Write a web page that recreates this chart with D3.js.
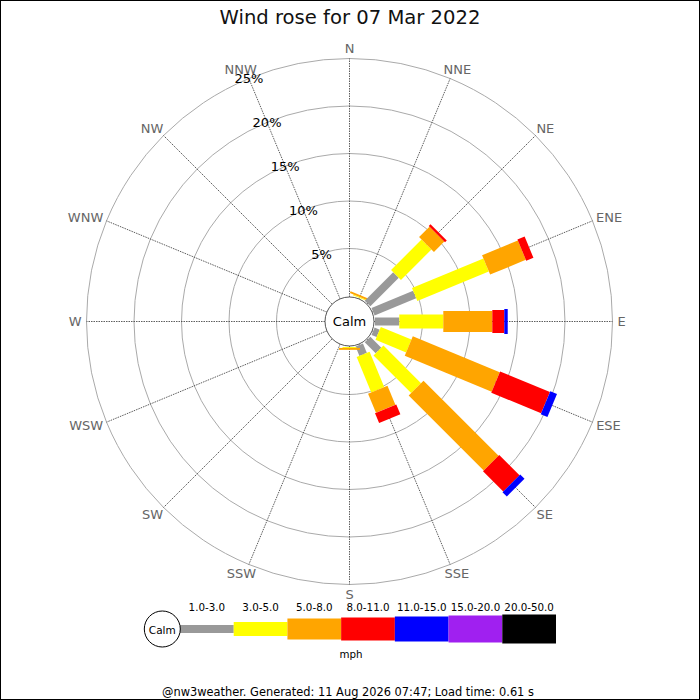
<!DOCTYPE html>
<html>
<head>
<meta charset="utf-8">
<script src="https://cdn.jsdelivr.net/npm/d3@7"></script>
<style>
  html, body { margin: 0; padding: 0; background: #fff; }
  svg { display: block; font-family: "DejaVu Sans", sans-serif; }
</style>
</head>
<body>
<div id="chart"></div>
<script>
// ---- Data ----
const directions = ["N","NNE","NE","ENE","E","ESE","SE","SSE","S","SSW","SW","WSW","W","WNW","NW","NNW"];
const speedBins = ["1.0-3.0","3.0-5.0","5.0-8.0","8.0-11.0","11.0-15.0","15.0-20.0","20.0-50.0"];
const binColors = ["#999999","#ffff00","#ffa500","#ff0000","#0000ff","#a020f0","#000000"];
// percentage of observations per direction for each speed bin
const s1to3   = [0, 0,    4.24, 4.74, 2.56, 0.58, 1.63,  1.06, 0,    0,0,0,0,0,0,0];
const s3to5   = [0, 0.10, 4.54, 8.14, 4.63, 3.49, 5.60,  4.03, 0.10, 0,0,0,0,0,0,0];
const s5to8   = [0, 0.20, 1.54, 4.07, 5.16, 9.90, 11.17, 2.17, 0.20, 0,0,0,0,0,0,0];
const s8to11  = [0, 0,    0.26, 0.82, 1.26, 5.68, 3.01,  1.13, 0,    0,0,0,0,0,0,0];
const s11to15 = [0, 0,    0,    0,    0.36, 0.76, 0.64,  0,    0,    0,0,0,0,0,0,0];
const s15to20 = [0,0,0,0,0,0,0,0,0,0,0,0,0,0,0,0];
const s20to50 = [0,0,0,0,0,0,0,0,0,0,0,0,0,0,0,0];
const series = [s1to3, s3to5, s5to8, s8to11, s11to15, s15to20, s20to50];
const ringTicks = [5, 10, 15, 20, 25];
const title = "Wind rose for 07 Mar 2022";
const unitsLabel = "mph";
const footer = "@nw3weather. Generated: 11 Aug 2026 07:47; Load time: 0.61 s";

// ---- Layout ----
const W = 700, H = 700;
const cx = 349.5, cy = 321.5;
const calmR = 24.5;
const barWidths = [8, 14, 21, 23, 25, 27, 29];

const svg = d3.select("#chart").append("svg").attr("width", W).attr("height", H);
svg.append("rect").attr("x", 0.5).attr("y", 0.5).attr("width", W - 1).attr("height", H - 1)
  .attr("fill", "#fff").attr("stroke", "#000").attr("stroke-width", 1);

svg.append("text").attr("x", 350).attr("y", 17).attr("text-anchor", "middle")
  .attr("dominant-baseline", "central").attr("font-size", 19.6).attr("fill", "#111").text(title);

const r = d3.scaleLinear().domain([0, 25]).range([25.5, 263]);
const ang = d3.scalePoint().domain(directions).range([0, 360 - 360 / directions.length]);
const rad = d => ang(d) * Math.PI / 180;

const g = svg.append("g").attr("transform", `translate(${cx},${cy})`);

// rings
g.selectAll("circle.ring").data(ringTicks).join("circle")
  .attr("class", "ring").attr("r", d => r(d))
  .attr("fill", "none").attr("stroke", "#aaa").attr("stroke-width", 1);

// spokes
g.selectAll("line.spoke").data(directions).join("line")
  .attr("x1", d => calmR * Math.sin(rad(d))).attr("y1", d => -calmR * Math.cos(rad(d)))
  .attr("x2", d => r(25) * Math.sin(rad(d))).attr("y2", d => -r(25) * Math.cos(rad(d)))
  .attr("stroke", "#333").attr("stroke-width", 0.8).attr("stroke-dasharray", "1.5,1");

// direction labels
const lblR = 268;
g.selectAll("text.dir").data(directions).join("text")
  .attr("class", "dir").attr("font-size", 13).attr("fill", "#666")
  .attr("text-anchor", "middle").attr("dominant-baseline", "central")
  .text(d => d)
  .each(function(d) {
    const w = this.getComputedTextLength();
    const s = Math.sin(rad(d)), c = Math.cos(rad(d));
    d3.select(this).attr("x", lblR * s + s * w / 2).attr("y", -lblR * c - c * 5);
  });

// bars
const segs = [];
directions.forEach((d, i) => {
  let cum = 0;
  series.forEach((ser, k) => {
    const v = ser[i];
    if (v > 0) segs.push({ dir: d, k, from: cum, to: cum + v });
    cum += v;
  });
});
g.selectAll("rect.seg").data(segs).join("rect")
  .attr("class", "seg")
  .attr("x", d => r(d.from)).attr("width", d => r(d.to) - r(d.from))
  .attr("y", d => -barWidths[d.k] / 2).attr("height", d => barWidths[d.k])
  .attr("fill", d => binColors[d.k])
  .attr("transform", d => `rotate(${ang(d.dir) - 90})`);

// percent labels along NNW
const lblAng = ang("NNW") * Math.PI / 180;
g.selectAll("text.pct").data(ringTicks).join("text")
  .attr("x", d => r(d) * Math.sin(lblAng)).attr("y", d => -r(d) * Math.cos(lblAng))
  .attr("text-anchor", "middle").attr("dominant-baseline", "central")
  .attr("font-size", 13).attr("fill", "#000").text(d => d + "%");

// calm circle
g.append("circle").attr("r", calmR).attr("fill", "#fff").attr("stroke", "#555").attr("stroke-width", 1);
g.append("text").attr("text-anchor", "middle").attr("dominant-baseline", "central")
  .attr("font-size", 13).attr("fill", "#000").text("Calm");

// legend
const lx = d3.scaleBand().domain(speedBins).range([180, 556]);
const ly = 629;
const leg = svg.append("g");
leg.selectAll("rect").data(speedBins).join("rect")
  .attr("x", d => lx(d)).attr("width", lx.bandwidth())
  .attr("y", (d, i) => ly - barWidths[i] / 2).attr("height", (d, i) => barWidths[i])
  .attr("fill", (d, i) => binColors[i]);
leg.selectAll("text").data(speedBins).join("text")
  .attr("x", d => lx(d) + lx.bandwidth() / 2).attr("y", 607)
  .attr("text-anchor", "middle").attr("dominant-baseline", "central")
  .attr("font-size", 10.3).attr("fill", "#000").text(d => d);
leg.append("circle").attr("cx", 162.3).attr("cy", ly).attr("r", 18)
  .attr("fill", "#fff").attr("stroke", "#000").attr("stroke-width", 1);
leg.append("text").attr("x", 162.3).attr("y", ly + 1).attr("text-anchor", "middle")
  .attr("dominant-baseline", "central").attr("font-size", 10.5).text("Calm");
leg.append("text").attr("x", 351).attr("y", 654).attr("text-anchor", "middle")
  .attr("dominant-baseline", "central").attr("font-size", 10.3).text(unitsLabel);

svg.append("text").attr("x", 348).attr("y", 692).attr("text-anchor", "middle")
  .attr("dominant-baseline", "central").attr("font-size", 11.4).attr("fill", "#000").text(footer);
</script>
</body>
</html>
